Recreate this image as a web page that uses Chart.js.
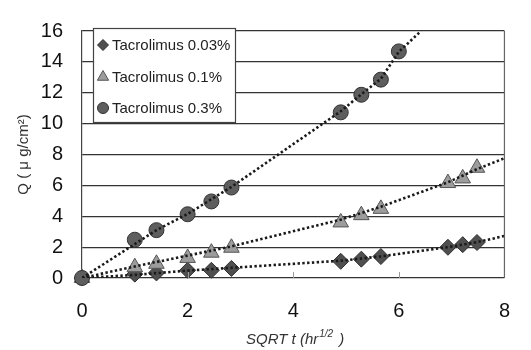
<!DOCTYPE html>
<html lang="en">
<head>
  <meta charset="UTF-8">
  <title>Tacrolimus permeation</title>
  <script src="https://cdn.jsdelivr.net/npm/chart.js"></script>
  <style>
    body { margin: 0; background: #fff; }
    #wrap { width: 531px; height: 350px; }
  </style>
</head>
<body>
  <div id="wrap"><canvas id="qChart" width="531" height="350"></canvas></div>

  <script>
    // SQRT t (hr^1/2) sampling points
    const sqrtT = [0, 1, 1.41, 2, 2.45, 2.83, 4.9, 5.29, 5.66, 6.93, 7.21, 7.48];
    const sqrtT03 = [0, 1, 1.41, 2, 2.45, 2.83, 4.9, 5.29, 5.66, 6];

    // Q (ug/cm2) per formulation
    const q003 = [0, 0.25, 0.33, 0.5, 0.5, 0.62, 1.08, 1.22, 1.39, 1.99, 2.16, 2.3];
    const q01 = [0, 0.7, 0.92, 1.3, 1.64, 1.96, 3.6, 4.07, 4.48, 6.15, 6.45, 7.14];
    const q03 = [0, 2.48, 3.1, 4.13, 4.96, 5.86, 10.73, 11.87, 12.85, 14.68];

    // dotted trend lines
    const trendX003 = [0, 1, 2, 2.83, 4.9, 5.66, 6.93, 7.48, 8];
    const trendY003 = [0, 0.2, 0.48, 0.66, 1.12, 1.4, 2.0, 2.32, 2.72];
    const trendX01 = [0, 1, 2, 2.83, 4.9, 5.66, 6.93, 7.48, 8];
    const trendY01 = [0, 0.75, 1.45, 2.05, 3.78, 4.62, 6.2, 7.05, 7.76];
    const trendX03 = [0, 1, 1.41, 2, 2.83, 4.9, 5.29, 5.66, 6, 6.42];
    const trendY03 = [0, 2.2, 3.1, 4.15, 5.9, 10.8, 11.9, 12.9, 14.65, 16];

    const labels = ['Tacrolimus 0.03%', 'Tacrolimus 0.1%', 'Tacrolimus 0.3%'];
    const yTicks = [0, 2, 4, 6, 8, 10, 12, 14, 16];
    const xTicks = [0, 2, 4, 6, 8];

    const pts = (xs, ys) => xs.map((x, i) => ({ x: x, y: ys[i] }));

    const trend = (xs, ys) => ({
      data: pts(xs, ys), showLine: true, pointRadius: 0, borderColor: '#1a1a1a',
      borderWidth: 2.6, borderDash: [2.4, 2.4], fill: false, order: 0
    });

    // frame, inward x ticks, boxed legend, axis titles
    const decor = {
      id: 'decor',
      afterDatasetsDraw(chart) {
        const c = chart.ctx, a = chart.chartArea, xs = chart.scales.x;
        c.save();
        c.strokeStyle = '#666'; c.lineWidth = 1.2;
        c.beginPath(); c.moveTo(a.right, a.top); c.lineTo(a.right, a.bottom); c.stroke();
        c.strokeStyle = '#999'; c.lineWidth = 1;
        xTicks.slice(1, -1).forEach(v => {
          const px = Math.round(xs.getPixelForValue(v)) + 0.5;
          c.beginPath(); c.moveTo(px, a.bottom); c.lineTo(px, a.bottom - 6); c.stroke();
        });

        // legend box
        c.fillStyle = '#fff'; c.fillRect(93, 28, 142, 95);
        c.strokeStyle = '#444'; c.lineWidth = 1.2; c.strokeRect(93.5, 28.5, 142, 94);
        c.font = '15px "Liberation Sans", Arial, sans-serif';
        c.textBaseline = 'middle';
        const rows = [45, 77, 108];
        [0, 1, 2].forEach(i => {
          const ds = chart.data.datasets[i];
          c.fillStyle = ds.backgroundColor; c.strokeStyle = ds.borderColor; c.lineWidth = 1;
          Chart.helpers.drawPoint(c, { pointStyle: ds.pointStyle, radius: ds.legendRadius, borderWidth: 1 }, 103, rows[i]);
          c.fillStyle = '#222';
          c.fillText(labels[i], 112, rows[i] + 1);
        });

        // x title with superscript
        c.fillStyle = '#333';
        c.textBaseline = 'alphabetic';
        const f1 = 'italic 15px "Liberation Sans", Arial, sans-serif';
        const f2 = 'italic 10px "Liberation Sans", Arial, sans-serif';
        let x = 246, y = 344;
        c.font = f1; c.fillText('SQRT t (hr', x, y); x += c.measureText('SQRT t (hr').width + 1;
        c.font = f2; c.fillText('1/2', x, y - 7); x += c.measureText('1/2').width + 2;
        c.font = f1; c.fillText(' )', x, y);

        // y title
        c.translate(24, (a.top + a.bottom) / 2);
        c.rotate(-Math.PI / 2);
        c.font = '15px "Liberation Sans", Arial, sans-serif';
        c.textAlign = 'center'; c.textBaseline = 'middle';
        c.fillText('Q ( μ g/cm²)', 0, 0);
        c.restore();
      }
    };

    new Chart(document.getElementById('qChart'), {
      type: 'scatter',
      data: {
        datasets: [
          {
            label: labels[0], data: pts(sqrtT, q003), pointStyle: 'rectRot', pointRadius: 8,
            legendRadius: 5.5, backgroundColor: '#4f4f4f', borderColor: '#2e2e2e', borderWidth: 1,
            clip: false, order: 3
          },
          {
            label: labels[1], data: pts(sqrtT, q01), pointStyle: 'triangle', pointRadius: 9,
            legendRadius: 6.5, backgroundColor: '#9c9c9c', borderColor: '#555', borderWidth: 1,
            clip: false, order: 2
          },
          {
            label: labels[2], data: pts(sqrtT03, q03), pointStyle: 'circle', pointRadius: 7.5,
            legendRadius: 5.5, backgroundColor: '#5e5e5e', borderColor: '#333', borderWidth: 1,
            clip: false, order: 1
          },
          trend(trendX003, trendY003),
          trend(trendX01, trendY01),
          trend(trendX03, trendY03)
        ]
      },
      options: {
        responsive: false,
        animation: false,
        layout: { padding: { top: 21, right: 9, left: 0, bottom: 0 } },
        plugins: { legend: { display: false }, tooltip: { enabled: false } },
        scales: {
          x: {
            type: 'linear', min: 0, max: 8,
            afterBuildTicks: s => { s.ticks = xTicks.map(v => ({ value: v })); },
            afterFit: s => { s.height = 72; },
            grid: { display: false, drawTicks: false },
            border: { display: false },
            ticks: { color: '#111', padding: 21, font: { size: 20, family: '"Liberation Sans", Arial' } }
          },
          y: {
            min: 0, max: 16,
            afterBuildTicks: s => { s.ticks = yTicks.map(v => ({ value: v })); },
            afterFit: s => { s.width = 82; },
            grid: { color: '#333', lineWidth: 1.2, drawTicks: false },
            border: { color: '#444', width: 1.2 },
            ticks: { color: '#111', padding: 19, font: { size: 20, family: '"Liberation Sans", Arial' } }
          }
        }
      },
      plugins: [decor]
    });
  </script>
</body>
</html>
